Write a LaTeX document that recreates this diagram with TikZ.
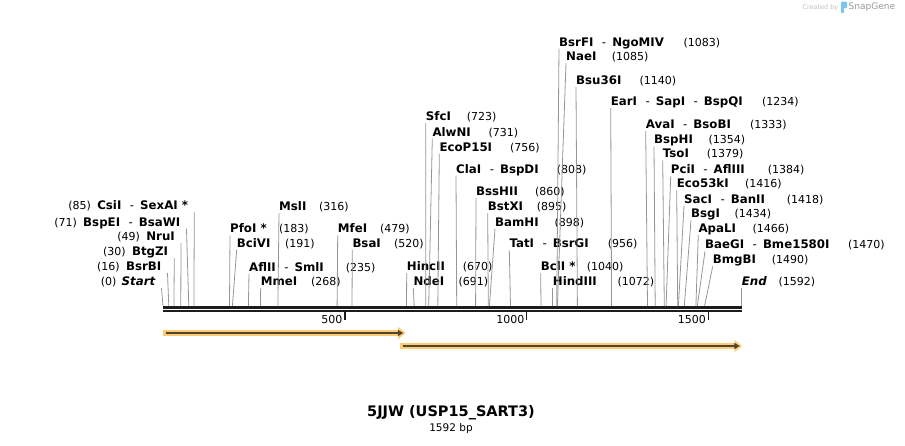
\documentclass[tikz,border=0pt]{standalone}
\usepackage{fontspec}
\setmainfont{DejaVu Sans}
\usepackage{tikz}
\usetikzlibrary{positioning}
\usetikzlibrary{arrows.meta}
\definecolor{featfill}{RGB}{255,203,115}
\definecolor{featline}{RGB}{80,68,50}
\definecolor{cutgray}{RGB}{150,150,150}
\definecolor{axisblack}{RGB}{28,28,28}
\definecolor{snapblue}{RGB}{120,200,240}
\tikzset{enz/.style={inner sep=0pt, anchor=base west, text height=8.5pt, text depth=2.5pt, font=\fontsize{11.8}{13}\selectfont\bfseries}}
\tikzset{enzl/.style={enz, anchor=base east}}
\tikzset{sitenum/.style={inner sep=0pt, anchor=base west, text height=8.5pt, text depth=2.5pt, font=\fontsize{11}{13}\selectfont}}
\tikzset{cut/.style={draw=cutgray, line width=0.8pt}}
\tikzset{ruler/.style={draw=axisblack}}
\newcommand{\enzsep}{\hspace{8.5pt}\textmd{-}\hspace{6pt}}

\begin{document}
\begin{tikzpicture}[x=1pt, y=-1pt]
		\useasboundingbox (0,0) rectangle (905,445);
		% sequence ruler
		\draw[ruler, line width=2.7pt] (163,307.3) -- (741.7,307.3);
		\draw[ruler, line width=2.3pt] (163,311.2) -- (741.7,311.2);
		\draw[ruler, line width=1.5pt] (344.75,312) -- (344.75,319.5);
		\draw[ruler, line width=1.5pt] (526.5,312) -- (526.5,319.5);
		\draw[ruler, line width=1.5pt] (708.3,312) -- (708.3,319.5);
		\node[sitenum, anchor=base east] (t500) at (342.5,323.5) {500};
		\node[sitenum, anchor=base east] (t1000) at (524.5,323.5) {1000};
		\node[sitenum, anchor=base east] (t1500) at (706,323.5) {1500};

		% features
		\fill[featfill] (163,330.2) -- (398,330.2) -- (398,326.8) -- (405.5,333) -- (398,339.2) -- (398,335.8) -- (163,335.8) -- cycle;
		\draw[featline, line width=1.8pt, -{Triangle[length=5.5pt,width=6pt]}] (165.5,333) -- (403.3,333);
		\fill[featfill] (400,343.2) -- (734.5,343.2) -- (734.5,339.8) -- (742,346) -- (734.5,352.2) -- (734.5,348.8) -- (400,348.8) -- cycle;
		\draw[featline, line width=1.8pt, -{Triangle[length=5.5pt,width=6pt]}] (402.5,346) -- (739.8,346);

		% cut sites on the ruler
		\coordinate (sStart) at (163,306);
		\coordinate (sBsrBI) at (168.8,306);
		\coordinate (sBtgZI) at (173.9,306);
		\coordinate (sNruI) at (180.8,306);
		\coordinate (sBspEI) at (188.8,306);
		\coordinate (sCsiI) at (193.9,306);
		\coordinate (sPfoI) at (229.5,306);
		\coordinate (sBciVI) at (232.4,306);
		\coordinate (sAflII) at (248.4,306);
		\coordinate (sMmeI) at (260.4,306);
		\coordinate (sMslI) at (277.9,306);
		\coordinate (sMfeI) at (337.1,306);
		\coordinate (sBsaI) at (352,306);
		\coordinate (sHincII) at (406.5,306);
		\coordinate (sNdeI) at (414.2,306);
		\coordinate (sSfcI) at (425.8,306);
		\coordinate (sAlwNI) at (428.7,306);
		\coordinate (sEcoP) at (437.8,306);
		\coordinate (sClaI) at (456.7,306);
		\coordinate (sBssHII) at (475.6,306);
		\coordinate (sBstXI) at (488.3,306);
		\coordinate (sBamHI) at (489.4,306);
		\coordinate (sTatI) at (510.5,306);
		\coordinate (sBclI) at (541,306);
		\coordinate (sHindIII) at (552.7,306);
		\coordinate (sBsrFI) at (556.7,306);
		\coordinate (sNaeI) at (557.4,306);
		\coordinate (sBsu) at (577.4,306);
		\coordinate (sEarI) at (611.6,306);
		\coordinate (sAvaI) at (647.5,306);
		\coordinate (sBspHI) at (655.2,306);
		\coordinate (sTsoI) at (664.3,306);
		\coordinate (sPciI) at (666.1,306);
		\coordinate (sEco) at (677.7,306);
		\coordinate (sSacI) at (678.4,306);
		\coordinate (sBsgI) at (684.3,306);
		\coordinate (sApaLI) at (695.9,306);
		\coordinate (sBaeGI) at (697.3,306);
		\coordinate (sBmgBI) at (704.6,306);
		\coordinate (sEnd) at (741.7,306);

		% labels left of the start
		\node[enzl] (CsiI) at (188.3,209.5) {CsiI\enzsep SexAI *};
		\node[sitenum, left=6pt of CsiI] (CsiI-n) {(85)};
		\node[enzl] (BspEI) at (180.5,226) {BspEI\enzsep BsaWI};
		\node[sitenum, left=6pt of BspEI] (BspEI-n) {(71)};
		\node[enzl] (NruI) at (175,240.5) {NruI};
		\node[sitenum, left=6pt of NruI] (NruI-n) {(49)};
		\node[enzl] (BtgZI) at (168.3,255.5) {BtgZI};
		\node[sitenum, left=6pt of BtgZI] (BtgZI-n) {(30)};
		\node[enzl] (BsrBI) at (161.5,270.5) {BsrBI};
		\node[sitenum, left=6pt of BsrBI] (BsrBI-n) {(16)};
		\node[enzl] (Start) at (155.5,285.5) {\itshape Start};
		\node[sitenum, left=5pt of Start] (Start-n) {(0)};
		\draw[cut] ([xshift=6pt]CsiI.south east) -- (sCsiI);
		\draw[cut] ([xshift=6pt]BspEI.south east) -- (sBspEI);
		\draw[cut] ([xshift=6pt]NruI.south east) -- (sNruI);
		\draw[cut] ([xshift=6pt]BtgZI.south east) -- (sBtgZI);
		\draw[cut] ([xshift=6pt]BsrBI.south east) -- (sBsrBI);
		\draw[cut] ([xshift=6pt]Start.south east) -- (sStart);

		% labels to the right
		\node[enz] (PfoI) at (230,232.7) {PfoI *};
		\node[sitenum] (PfoI-n) at (279,232.7) {(183)};
		\node[enz] (BciVI) at (236.7,247) {BciVI};
		\node[sitenum] (BciVI-n) at (285,247) {(191)};
		\node[enz] (AflII) at (249,271) {AflII\enzsep SmlI};
		\node[sitenum] (AflII-n) at (345.7,271) {(235)};
		\node[enz] (MmeI) at (260.7,285.3) {MmeI};
		\node[sitenum] (MmeI-n) at (311,285.3) {(268)};
		\node[enz] (MslI) at (279,210.3) {MslI};
		\node[sitenum] (MslI-n) at (319,210.3) {(316)};
		\node[enz] (MfeI) at (337.7,232.7) {MfeI};
		\node[sitenum] (MfeI-n) at (380,232.7) {(479)};
		\node[enz] (BsaI) at (352.3,247) {BsaI};
		\node[sitenum] (BsaI-n) at (394,247) {(520)};
		\node[enz] (HincII) at (406.7,270.3) {HincII};
		\node[sitenum] (HincII-n) at (462.7,270.3) {(670)};
		\node[enz] (NdeI) at (413.3,285.3) {NdeI};
		\node[sitenum] (NdeI-n) at (458.3,285.3) {(691)};
		\node[enz] (SfcI) at (425.7,120.3) {SfcI};
		\node[sitenum] (SfcI-n) at (466.7,120.3) {(723)};
		\node[enz] (AlwNI) at (432.3,136) {AlwNI};
		\node[sitenum] (AlwNI-n) at (488.3,136) {(731)};
		\node[enz] (EcoP) at (439.3,151) {EcoP15I};
		\node[sitenum] (EcoP-n) at (510,151) {(756)};
		\node[enz] (ClaI) at (456,173) {ClaI\enzsep BspDI};
		\node[sitenum] (ClaI-n) at (556.7,173) {(808)};
		\node[enz] (BssHII) at (476,195.3) {BssHII};
		\node[sitenum] (BssHII-n) at (535,195.3) {(860)};
		\node[enz] (BstXI) at (487.7,210.3) {BstXI};
		\node[sitenum] (BstXI-n) at (536.7,210.3) {(895)};
		\node[enz] (BamHI) at (495,226) {BamHI};
		\node[sitenum] (BamHI-n) at (554.3,226) {(898)};
		\node[enz] (TatI) at (509.3,247.7) {TatI\enzsep BsrGI};
		\node[sitenum] (TatI-n) at (607.7,247.7) {(956)};
		\node[enz] (BclI) at (540.7,270.3) {BclI *};
		\node[sitenum] (BclI-n) at (586.7,270.3) {(1040)};
		\node[enz] (HindIII) at (552.7,285.3) {HindIII};
		\node[sitenum] (HindIII-n) at (617.3,285.3) {(1072)};
		\node[enz] (BsrFI) at (559,46) {BsrFI\enzsep NgoMIV};
		\node[sitenum] (BsrFI-n) at (683.3,46) {(1083)};
		\node[enz] (NaeI) at (566,60.3) {NaeI};
		\node[sitenum] (NaeI-n) at (611.7,60.3) {(1085)};
		\node[enz] (Bsu) at (576,84.3) {Bsu36I};
		\node[sitenum] (Bsu-n) at (639.3,84.3) {(1140)};
		\node[enz] (EarI) at (610.7,105.3) {EarI\enzsep SapI\enzsep BspQI};
		\node[sitenum] (EarI-n) at (762,105.3) {(1234)};
		\node[enz] (AvaI) at (645.7,128.5) {AvaI\enzsep BsoBI};
		\node[sitenum] (AvaI-n) at (750,128.5) {(1333)};
		\node[enz] (BspHI) at (654,143.7) {BspHI};
		\node[sitenum] (BspHI-n) at (708.3,143.7) {(1354)};
		\node[enz] (TsoI) at (662.7,157.7) {TsoI};
		\node[sitenum] (TsoI-n) at (706.7,157.7) {(1379)};
		\node[enz] (PciI) at (670.7,173.7) {PciI\enzsep AflIII};
		\node[sitenum] (PciI-n) at (767.7,173.7) {(1384)};
		\node[enz] (Eco) at (676.7,187.7) {Eco53kI};
		\node[sitenum] (Eco-n) at (745,187.7) {(1416)};
		\node[enz] (SacI) at (684,203) {SacI\enzsep BanII};
		\node[sitenum] (SacI-n) at (786.7,203) {(1418)};
		\node[enz] (BsgI) at (691,217.7) {BsgI};
		\node[sitenum] (BsgI-n) at (734.3,217.7) {(1434)};
		\node[enz] (ApaLI) at (698.3,232.3) {ApaLI};
		\node[sitenum] (ApaLI-n) at (752.3,232.3) {(1466)};
		\node[enz] (BaeGI) at (705,248.7) {BaeGI\enzsep Bme1580I};
		\node[sitenum] (BaeGI-n) at (848,248.7) {(1470)};
		\node[enz] (BmgBI) at (712.7,263.7) {BmgBI};
		\node[sitenum] (BmgBI-n) at (771.7,263.7) {(1490)};
		\node[enz] (End) at (741.7,285.3) {\itshape End};
		\node[sitenum] (End-n) at (778.3,285.3) {(1592)};

		\draw[cut] (PfoI.south west) -- (sPfoI);
		\draw[cut] (BciVI.south west) -- (sBciVI);
		\draw[cut] (AflII.south west) -- (sAflII);
		\draw[cut] (MmeI.south west) -- (sMmeI);
		\draw[cut] (MslI.south west) -- (sMslI);
		\draw[cut] (MfeI.south west) -- (sMfeI);
		\draw[cut] (BsaI.south west) -- (sBsaI);
		\draw[cut] (HincII.south west) -- (sHincII);
		\draw[cut] (NdeI.south west) -- (sNdeI);
		\draw[cut] (SfcI.south west) -- (sSfcI);
		\draw[cut] (AlwNI.south west) -- (sAlwNI);
		\draw[cut] (EcoP.south west) -- (sEcoP);
		\draw[cut] (ClaI.south west) -- (sClaI);
		\draw[cut] (BssHII.south west) -- (sBssHII);
		\draw[cut] (BstXI.south west) -- (sBstXI);
		\draw[cut] (BamHI.south west) -- (sBamHI);
		\draw[cut] (TatI.south west) -- (sTatI);
		\draw[cut] (BclI.south west) -- (sBclI);
		\draw[cut] (HindIII.south west) -- (sHindIII);
		\draw[cut] (BsrFI.south west) -- (sBsrFI);
		\draw[cut] (NaeI.south west) -- (sNaeI);
		\draw[cut] (Bsu.south west) -- (sBsu);
		\draw[cut] (EarI.south west) -- (sEarI);
		\draw[cut] (AvaI.south west) -- (sAvaI);
		\draw[cut] (BspHI.south west) -- (sBspHI);
		\draw[cut] (TsoI.south west) -- (sTsoI);
		\draw[cut] (PciI.south west) -- (sPciI);
		\draw[cut] (Eco.south west) -- (sEco);
		\draw[cut] (SacI.south west) -- (sSacI);
		\draw[cut] (BsgI.south west) -- (sBsgI);
		\draw[cut] (ApaLI.south west) -- (sApaLI);
		\draw[cut] (BaeGI.south west) -- (sBaeGI);
		\draw[cut] (BmgBI.south west) -- (sBmgBI);
		\draw[cut] (End.south west) -- (sEnd);

		% title
		\node[font=\fontsize{14.5}{17}\selectfont\bfseries] (title) at (451,413) {5JJW (USP15\_SART3)};
		\node[font=\fontsize{10.5}{12}\selectfont] (length) at (451,428.5) {1592 bp};

		% watermark
		\node[anchor=east, inner sep=0pt, font=\fontsize{6.5}{8}\selectfont, text=black!25] (createdby) at (838.5,7.5) {Created by};
		\fill[snapblue, rounded corners=1pt] (841,1.5) rectangle (847,8);
		\fill[snapblue] (841,6) rectangle (843.5,12.5);
		\node[anchor=west, inner sep=0pt, font=\fontsize{9}{10}\selectfont, text=black!40] (snapgene) at (848.5,7.5) {SnapGene};
	\end{tikzpicture}
\end{document}
